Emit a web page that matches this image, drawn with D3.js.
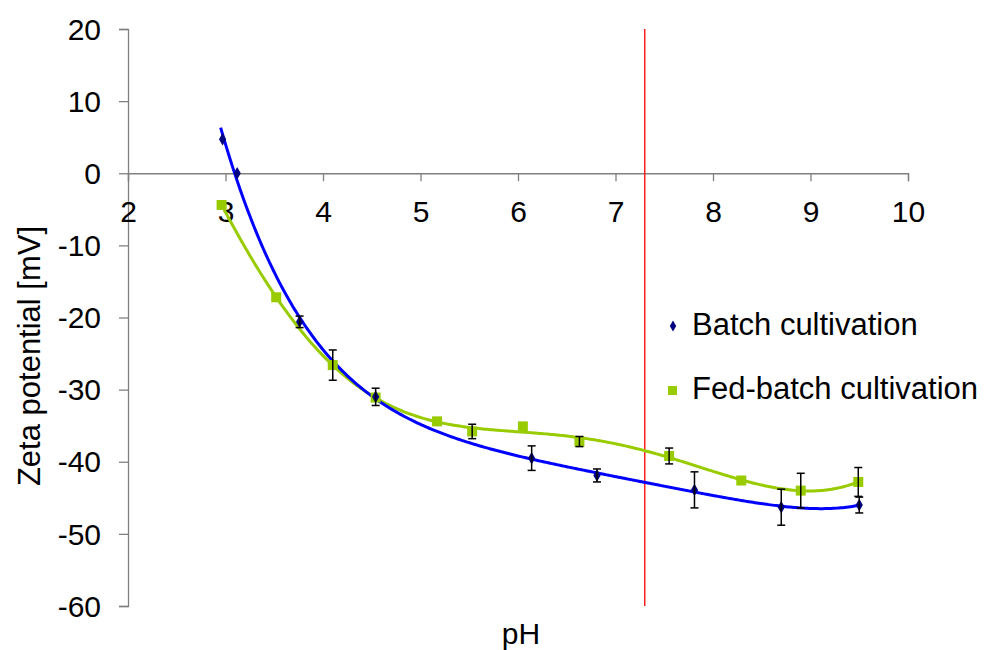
<!DOCTYPE html>
<html>
<head>
<meta charset="utf-8">
<script src="https://cdn.jsdelivr.net/npm/d3@7"></script>
<style>
  body { margin: 0; background: #fff; }
  text { font-family: "Liberation Sans", Arial, sans-serif; }
</style>
</head>
<body>
<div id="chart"></div>
<script>
// data
var batchPH = [2.97, 3.12, 3.76, 4.54, 6.14, 6.81, 7.81, 8.70, 9.50];
var batchZeta = [4.7, 0.0, -20.6, -31.0, -39.5, -41.9, -43.9, -46.3, -46.0];
var batchErr = [0, 0, 0.8, 1.2, 1.7, 0.9, 2.5, 2.5, 1.1];

var fedPH = [2.96, 3.52, 4.10, 4.54, 5.17, 5.53, 6.05, 6.63, 7.55, 8.29, 8.90, 9.49];
var fedZeta = [-4.4, -17.2, -26.6, -31.1, -34.4, -35.8, -35.1, -37.2, -39.2, -42.6, -44.0, -42.8];
var fedErr = [0, 0, 2.1, 0, 0, 1.0, 0, 0.7, 1.1, 0, 2.4, 2.0];

var xTicks = [2, 3, 4, 5, 6, 7, 8, 9, 10];
var yTicks = [20, 10, 0, -10, -20, -30, -40, -50, -60];
var markerPH = 7.3;

var W = 986, H = 650;
var svg = d3.select("#chart").append("svg")
        .attr("width", W)
        .attr("height", H);

var x = d3.scaleLinear().domain([2, 10]).range([128, 908]);
var y = d3.scaleLinear().domain([-60, 20]).range([606, 29]);

// polynomial trendline (least squares), like the spreadsheet one
var polyFit = function (xs, ys, order) {
    var n = order + 1;
    var A = [], b = [];
    for (var i = 0; i < n; i++) {
        A.push(new Array(n).fill(0));
        b.push(0);
    }
    xs.forEach(function (xv, k) {
        var t = (xv - 6) / 3;
        for (var i = 0; i < n; i++) {
            for (var j = 0; j < n; j++) A[i][j] += Math.pow(t, i + j);
            b[i] += Math.pow(t, i) * ys[k];
        }
    });
    for (var c = 0; c < n; c++) {
        var p = c;
        for (var r = c + 1; r < n; r++) if (Math.abs(A[r][c]) > Math.abs(A[p][c])) p = r;
        var tmp = A[c]; A[c] = A[p]; A[p] = tmp;
        var tb = b[c]; b[c] = b[p]; b[p] = tb;
        for (var r2 = c + 1; r2 < n; r2++) {
            var f = A[r2][c] / A[c][c];
            for (var j2 = c; j2 < n; j2++) A[r2][j2] -= f * A[c][j2];
            b[r2] -= f * b[c];
        }
    }
    var coef = new Array(n).fill(0);
    for (var i2 = n - 1; i2 >= 0; i2--) {
        var s = b[i2];
        for (var j3 = i2 + 1; j3 < n; j3++) s -= A[i2][j3] * coef[j3];
        coef[i2] = s / A[i2][i2];
    }
    return function (xv) {
        var t = (xv - 6) / 3, v = 0;
        for (var i = 0; i < n; i++) v += coef[i] * Math.pow(t, i);
        return v;
    };
};

var trend = function (xs, ys, order) {
    var f = polyFit(xs, ys, order);
    var lo = d3.min(xs) - 0.02, hi = d3.max(xs) + 0.01;
    return d3.range(lo, hi, 0.02).concat([hi]).map(function (v) { return [v, f(v)]; });
};

var line = d3.line()
        .x(function (d) { return x(d[0]); })
        .y(function (d) { return y(d[1]); });

// axes (plain hyphen minus, as in the original)
var axisColor = "#808080";
var fmt = function (d) { return String(d); };
var yAxis = svg.append("g")
        .attr("transform", "translate(" + x(2) + ",0)")
        .call(d3.axisLeft(y).tickValues(yTicks).tickFormat(fmt).tickSize(9).tickPadding(18));
var xAxis = svg.append("g")
        .attr("transform", "translate(0," + y(0) + ")")
        .call(d3.axisBottom(x).tickValues(xTicks).tickFormat(fmt).tickSize(8));
[xAxis, yAxis].forEach(function (ax) {
    ax.select(".domain").attr("stroke", axisColor).attr("stroke-width", 1.3);
    ax.selectAll(".tick line").attr("stroke", axisColor).attr("stroke-width", 1.3);
    ax.selectAll(".tick text")
        .attr("fill", "#000")
        .style("font-size", "30px")
        .style("font-family", "'Liberation Sans', Arial, sans-serif");
});
xAxis.selectAll(".tick text").attr("y", 49).attr("dy", 0);
yAxis.selectAll(".tick text").attr("dy", "0.34em");

// red marker line
svg.append("line")
        .attr("x1", x(markerPH)).attr("x2", x(markerPH))
        .attr("y1", y(20)).attr("y2", y(-60))
        .attr("stroke", "#ff2020")
        .attr("stroke-width", 1.5);

// trendlines
svg.append("path")
        .datum(trend(fedPH, fedZeta, 6))
        .attr("d", line)
        .attr("fill", "none")
        .attr("stroke", "#99cc00")
        .attr("stroke-width", 3);
svg.append("path")
        .datum(trend(batchPH, batchZeta, 6))
        .attr("d", line)
        .attr("fill", "none")
        .attr("stroke", "#0000ff")
        .attr("stroke-width", 3);

// error bars
var drawErr = function (xs, ys, es) {
    var g = svg.append("g");
    xs.forEach(function (xv, i) {
        if (!es[i]) return;
        var cx = x(xv), top = y(ys[i] + es[i]), bot = y(ys[i] - es[i]);
        g.append("line").attr("x1", cx).attr("x2", cx).attr("y1", top).attr("y2", bot);
        g.append("line").attr("x1", cx - 4).attr("x2", cx + 4).attr("y1", top).attr("y2", top);
        g.append("line").attr("x1", cx - 4).attr("x2", cx + 4).attr("y1", bot).attr("y2", bot);
    });
    g.selectAll("line").attr("stroke", "#000").attr("stroke-width", 1.5);
};

// markers
svg.append("g").selectAll("rect")
        .data(fedPH)
        .enter().append("rect")
        .attr("x", function (d) { return x(d) - 5; })
        .attr("y", function (d, i) { return y(fedZeta[i]) - 5; })
        .attr("width", 10)
        .attr("height", 10)
        .attr("fill", "#99cc00");
drawErr(fedPH, fedZeta, fedErr);

var diamond = d3.symbol().type(d3.symbolDiamond).size(45);
svg.append("g").selectAll("path")
        .data(batchPH)
        .enter().append("path")
        .attr("d", diamond)
        .attr("transform", function (d, i) {
            return "translate(" + x(d) + "," + y(batchZeta[i]) + ")";
        })
        .attr("fill", "#000080");
drawErr(batchPH, batchZeta, batchErr);

// legend
svg.append("path")
        .attr("d", d3.symbol().type(d3.symbolDiamond).size(35))
        .attr("transform", "translate(673,326)")
        .attr("fill", "#000080");
svg.append("rect")
        .attr("x", 668).attr("y", 386)
        .attr("width", 9).attr("height", 9)
        .attr("fill", "#99cc00");
svg.append("text")
        .attr("x", 692).attr("y", 335)
        .style("font-size", "31px")
        .text("Batch cultivation");
svg.append("text")
        .attr("x", 692).attr("y", 399)
        .style("font-size", "31px")
        .text("Fed-batch cultivation");

// axis titles
svg.append("text")
        .attr("text-anchor", "middle")
        .attr("x", 521).attr("y", 644)
        .style("font-size", "30px")
        .text("pH");
svg.append("text")
        .attr("text-anchor", "middle")
        .attr("transform", "translate(40,356) rotate(-90)")
        .style("font-size", "31px")
        .text("Zeta potential [mV]");
</script>
</body>
</html>
